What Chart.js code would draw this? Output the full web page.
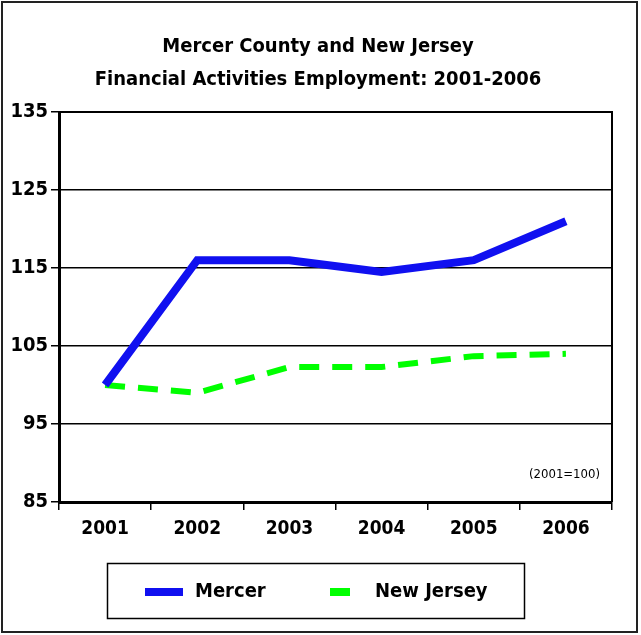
<!DOCTYPE html>
<html>
<head>
<meta charset="utf-8">
<script src="https://cdn.jsdelivr.net/npm/chart.js@4/dist/chart.umd.min.js"></script>
<style>
    html, body { margin: 0; padding: 0; background: #fff; }
    canvas { display: block; }
</style>
</head>
<body>
<canvas id="finChart" width="641" height="635"></canvas>
<script>
const years = ['2001', '2002', '2003', '2004', '2005', '2006'];
const mercer = [100, 116, 116, 114.5, 116, 121];
const newJersey = [100, 99, 102.3, 102.3, 103.7, 104];
const yTicks = [85, 95, 105, 115, 125, 135];
const titleLines = ['Mercer County and New Jersey', 'Financial Activities Employment: 2001-2006'];
const note = '(2001=100)';

const FONT = "'Comic Sans MS', 'DejaVu Sans Condensed', 'DejaVu Sans', sans-serif";

// frame, title, note and boxed legend drawn on top of the chart
const decorations = {
    id: 'decorations',
    afterDraw(chart) {
        const ctx = chart.ctx;
        const area = chart.chartArea;
        ctx.save();

        // outer frame
        ctx.strokeStyle = '#222';
        ctx.lineWidth = 2;
        ctx.strokeRect(2, 2, 635, 630);

        // top + right edges of plot area
        ctx.strokeStyle = '#000';
        ctx.lineWidth = 2;
        ctx.beginPath();
        ctx.moveTo(area.left, area.top);
        ctx.lineTo(area.right, area.top);
        ctx.lineTo(area.right, area.bottom);
        ctx.stroke();

        // title
        ctx.fillStyle = '#000';
        ctx.textAlign = 'center';
        ctx.textBaseline = 'middle';
        ctx.font = 'bold 20px ' + FONT;
        ctx.fillText(titleLines[0], 318, 47);
        ctx.fillText(titleLines[1], 318, 80);

        // base note
        ctx.font = '13px ' + FONT;
        ctx.textAlign = 'right';
        ctx.fillText(note, 600, 475);

        // legend box
        ctx.lineWidth = 1.5;
        ctx.strokeStyle = '#000';
        ctx.strokeRect(107.5, 563.5, 417, 55);
        ctx.font = 'bold 20px ' + FONT;
        ctx.textAlign = 'left';
        const items = [
            { ds: chart.data.datasets[0], x: 145, w: 38, x2: 195 },
            { ds: chart.data.datasets[1], x: 330, w: 20, x2: 375 }
        ];
        items.forEach(it => {
            ctx.fillStyle = it.ds.borderColor;
            ctx.fillRect(it.x, 588, it.w, 8);
            ctx.fillStyle = '#000';
            ctx.fillText(it.ds.label, it.x2, 592);
        });

        ctx.restore();
    }
};

new Chart(document.getElementById('finChart'), {
    type: 'line',
    data: {
        labels: years,
        datasets: [
            {
                label: 'Mercer',
                data: mercer,
                borderColor: '#1010f0',
                borderWidth: 8,
                pointRadius: 0,
                tension: 0,
                fill: false
            },
            {
                label: 'New Jersey',
                data: newJersey,
                borderColor: '#00ff00',
                borderWidth: 6,
                borderDash: [20, 13],
                borderCapStyle: 'butt',
                pointRadius: 0,
                tension: 0,
                fill: false
            }
        ]
    },
    options: {
        responsive: false,
        animation: false,
        devicePixelRatio: 1,
        layout: { padding: { top: 112, left: 0, right: 29, bottom: 88 } },
        plugins: {
            legend: { display: false },
            title: { display: false },
            tooltip: { enabled: false }
        },
        scales: {
            x: {
                offset: true,
                grid: {
                    offset: true,
                    drawOnChartArea: false,
                    drawTicks: true,
                    tickLength: 8,
                    color: '#000',
                    lineWidth: 1.5
                },
                border: { color: '#000', width: 3 },
                ticks: {
                    color: '#000',
                    padding: 8,
                    maxRotation: 0,
                    font: { family: FONT, size: 19, weight: 'bold' }
                },
                afterFit(scale) { scale.height = 45; }
            },
            y: {
                min: 85,
                max: 135,
                afterBuildTicks(scale) { scale.ticks = yTicks.map(v => ({ value: v })); },
                grid: {
                    color: '#000',
                    lineWidth: 1.5,
                    tickLength: 8
                },
                border: { color: '#000', width: 3 },
                ticks: {
                    color: '#000',
                    padding: 3,
                    font: { family: FONT, size: 20, weight: 'bold' }
                },
                afterFit(scale) { scale.width = 59; }
            }
        }
    },
    plugins: [decorations]
});
</script>
</body>
</html>
